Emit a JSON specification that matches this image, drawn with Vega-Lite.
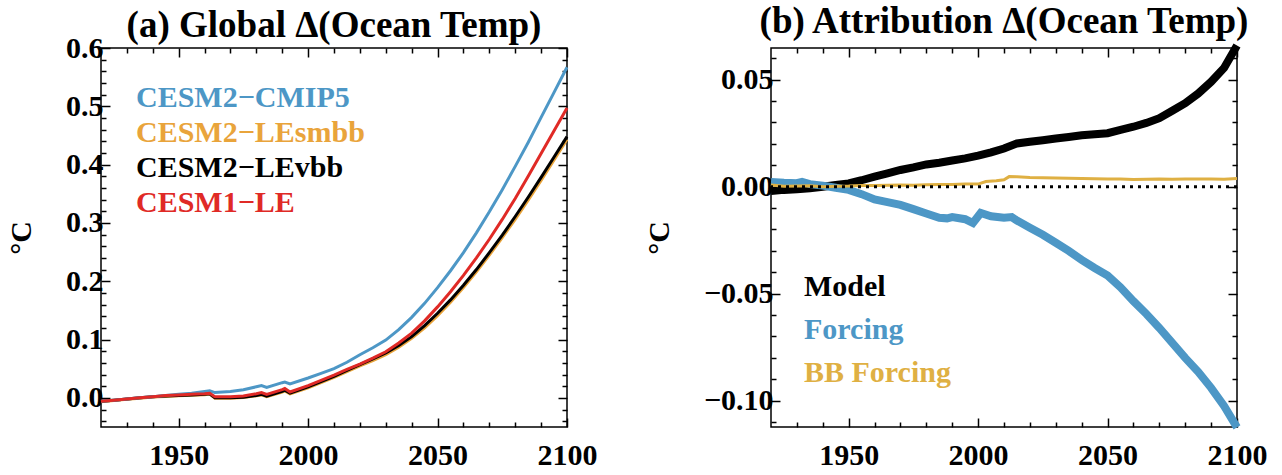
{
  "$schema": "https://vega.github.io/schema/vega-lite/v6.json",
  "background": "white",
  "padding": {"left": 5, "top": 2, "right": 5, "bottom": 5},
  "datasets": {
    "a": [
      {"year":1920,"value":-0.0065,"series":"CESM2−LEsmbb"},{"year":1925,"value":-0.0045,"series":"CESM2−LEsmbb"},{"year":1930,"value":-0.0025,"series":"CESM2−LEsmbb"},{"year":1935,"value":-0.0005,"series":"CESM2−LEsmbb"},{"year":1940,"value":0.0015,"series":"CESM2−LEsmbb"},{"year":1945,"value":0.0025,"series":"CESM2−LEsmbb"},{"year":1950,"value":0.0035,"series":"CESM2−LEsmbb"},{"year":1955,"value":0.0045,"series":"CESM2−LEsmbb"},{"year":1960,"value":0.0055,"series":"CESM2−LEsmbb"},{"year":1962,"value":0.0065,"series":"CESM2−LEsmbb"},{"year":1964,"value":-0.0005,"series":"CESM2−LEsmbb"},{"year":1970,"value":-0.0005,"series":"CESM2−LEsmbb"},{"year":1975,"value":0.0005,"series":"CESM2−LEsmbb"},{"year":1980,"value":0.0035,"series":"CESM2−LEsmbb"},{"year":1982,"value":0.005,"series":"CESM2−LEsmbb"},{"year":1984,"value":0.002,"series":"CESM2−LEsmbb"},{"year":1990,"value":0.010,"series":"CESM2−LEsmbb"},{"year":1991,"value":0.012,"series":"CESM2−LEsmbb"},{"year":1993,"value":0.007,"series":"CESM2−LEsmbb"},{"year":2000,"value":0.017,"series":"CESM2−LEsmbb"},{"year":2005,"value":0.026,"series":"CESM2−LEsmbb"},{"year":2010,"value":0.035,"series":"CESM2−LEsmbb"},{"year":2015,"value":0.045,"series":"CESM2−LEsmbb"},{"year":2020,"value":0.055,"series":"CESM2−LEsmbb"},{"year":2025,"value":0.064,"series":"CESM2−LEsmbb"},{"year":2030,"value":0.074,"series":"CESM2−LEsmbb"},{"year":2035,"value":0.087,"series":"CESM2−LEsmbb"},{"year":2040,"value":0.102,"series":"CESM2−LEsmbb"},{"year":2045,"value":0.120,"series":"CESM2−LEsmbb"},{"year":2050,"value":0.141,"series":"CESM2−LEsmbb"},{"year":2055,"value":0.164,"series":"CESM2−LEsmbb"},{"year":2060,"value":0.189,"series":"CESM2−LEsmbb"},{"year":2065,"value":0.216,"series":"CESM2−LEsmbb"},{"year":2070,"value":0.245,"series":"CESM2−LEsmbb"},{"year":2075,"value":0.275,"series":"CESM2−LEsmbb"},{"year":2080,"value":0.306,"series":"CESM2−LEsmbb"},{"year":2085,"value":0.339,"series":"CESM2−LEsmbb"},{"year":2090,"value":0.373,"series":"CESM2−LEsmbb"},{"year":2095,"value":0.408,"series":"CESM2−LEsmbb"},{"year":2100,"value":0.443,"series":"CESM2−LEsmbb"},

      {"year":1920,"value":-0.006,"series":"CESM2−LEvbb"},{"year":1925,"value":-0.004,"series":"CESM2−LEvbb"},{"year":1930,"value":-0.002,"series":"CESM2−LEvbb"},{"year":1935,"value":0.0,"series":"CESM2−LEvbb"},{"year":1940,"value":0.002,"series":"CESM2−LEvbb"},{"year":1945,"value":0.003,"series":"CESM2−LEvbb"},{"year":1950,"value":0.004,"series":"CESM2−LEvbb"},{"year":1955,"value":0.005,"series":"CESM2−LEvbb"},{"year":1960,"value":0.006,"series":"CESM2−LEvbb"},{"year":1962,"value":0.007,"series":"CESM2−LEvbb"},{"year":1964,"value":0.0,"series":"CESM2−LEvbb"},{"year":1970,"value":0.0,"series":"CESM2−LEvbb"},{"year":1975,"value":0.001,"series":"CESM2−LEvbb"},{"year":1980,"value":0.004,"series":"CESM2−LEvbb"},{"year":1982,"value":0.006,"series":"CESM2−LEvbb"},{"year":1984,"value":0.003,"series":"CESM2−LEvbb"},{"year":1990,"value":0.011,"series":"CESM2−LEvbb"},{"year":1991,"value":0.013,"series":"CESM2−LEvbb"},{"year":1993,"value":0.008,"series":"CESM2−LEvbb"},{"year":2000,"value":0.019,"series":"CESM2−LEvbb"},{"year":2005,"value":0.028,"series":"CESM2−LEvbb"},{"year":2010,"value":0.037,"series":"CESM2−LEvbb"},{"year":2015,"value":0.047,"series":"CESM2−LEvbb"},{"year":2020,"value":0.057,"series":"CESM2−LEvbb"},{"year":2025,"value":0.067,"series":"CESM2−LEvbb"},{"year":2030,"value":0.077,"series":"CESM2−LEvbb"},{"year":2035,"value":0.090,"series":"CESM2−LEvbb"},{"year":2040,"value":0.105,"series":"CESM2−LEvbb"},{"year":2045,"value":0.124,"series":"CESM2−LEvbb"},{"year":2050,"value":0.145,"series":"CESM2−LEvbb"},{"year":2055,"value":0.168,"series":"CESM2−LEvbb"},{"year":2060,"value":0.193,"series":"CESM2−LEvbb"},{"year":2065,"value":0.220,"series":"CESM2−LEvbb"},{"year":2070,"value":0.249,"series":"CESM2−LEvbb"},{"year":2075,"value":0.279,"series":"CESM2−LEvbb"},{"year":2080,"value":0.311,"series":"CESM2−LEvbb"},{"year":2085,"value":0.344,"series":"CESM2−LEvbb"},{"year":2090,"value":0.378,"series":"CESM2−LEvbb"},{"year":2095,"value":0.413,"series":"CESM2−LEvbb"},{"year":2100,"value":0.448,"series":"CESM2−LEvbb"},

      {"year":1920,"value":-0.006,"series":"CESM2−CMIP5"},{"year":1925,"value":-0.004,"series":"CESM2−CMIP5"},{"year":1930,"value":-0.002,"series":"CESM2−CMIP5"},{"year":1935,"value":0.0,"series":"CESM2−CMIP5"},{"year":1940,"value":0.002,"series":"CESM2−CMIP5"},{"year":1945,"value":0.004,"series":"CESM2−CMIP5"},{"year":1950,"value":0.006,"series":"CESM2−CMIP5"},{"year":1955,"value":0.008,"series":"CESM2−CMIP5"},{"year":1960,"value":0.011,"series":"CESM2−CMIP5"},{"year":1962,"value":0.012,"series":"CESM2−CMIP5"},{"year":1964,"value":0.009,"series":"CESM2−CMIP5"},{"year":1970,"value":0.011,"series":"CESM2−CMIP5"},{"year":1975,"value":0.014,"series":"CESM2−CMIP5"},{"year":1980,"value":0.019,"series":"CESM2−CMIP5"},{"year":1982,"value":0.021,"series":"CESM2−CMIP5"},{"year":1984,"value":0.018,"series":"CESM2−CMIP5"},{"year":1990,"value":0.026,"series":"CESM2−CMIP5"},{"year":1991,"value":0.027,"series":"CESM2−CMIP5"},{"year":1993,"value":0.024,"series":"CESM2−CMIP5"},{"year":2000,"value":0.034,"series":"CESM2−CMIP5"},{"year":2005,"value":0.042,"series":"CESM2−CMIP5"},{"year":2010,"value":0.050,"series":"CESM2−CMIP5"},{"year":2015,"value":0.061,"series":"CESM2−CMIP5"},{"year":2020,"value":0.074,"series":"CESM2−CMIP5"},{"year":2025,"value":0.086,"series":"CESM2−CMIP5"},{"year":2030,"value":0.099,"series":"CESM2−CMIP5"},{"year":2035,"value":0.117,"series":"CESM2−CMIP5"},{"year":2040,"value":0.138,"series":"CESM2−CMIP5"},{"year":2045,"value":0.162,"series":"CESM2−CMIP5"},{"year":2050,"value":0.189,"series":"CESM2−CMIP5"},{"year":2055,"value":0.218,"series":"CESM2−CMIP5"},{"year":2060,"value":0.249,"series":"CESM2−CMIP5"},{"year":2065,"value":0.283,"series":"CESM2−CMIP5"},{"year":2070,"value":0.319,"series":"CESM2−CMIP5"},{"year":2075,"value":0.357,"series":"CESM2−CMIP5"},{"year":2080,"value":0.397,"series":"CESM2−CMIP5"},{"year":2085,"value":0.438,"series":"CESM2−CMIP5"},{"year":2090,"value":0.481,"series":"CESM2−CMIP5"},{"year":2095,"value":0.524,"series":"CESM2−CMIP5"},{"year":2100,"value":0.567,"series":"CESM2−CMIP5"},

      {"year":1920,"value":-0.006,"series":"CESM1−LE"},{"year":1925,"value":-0.004,"series":"CESM1−LE"},{"year":1930,"value":-0.002,"series":"CESM1−LE"},{"year":1935,"value":0.0,"series":"CESM1−LE"},{"year":1940,"value":0.002,"series":"CESM1−LE"},{"year":1945,"value":0.004,"series":"CESM1−LE"},{"year":1950,"value":0.005,"series":"CESM1−LE"},{"year":1955,"value":0.006,"series":"CESM1−LE"},{"year":1960,"value":0.007,"series":"CESM1−LE"},{"year":1962,"value":0.008,"series":"CESM1−LE"},{"year":1964,"value":0.002,"series":"CESM1−LE"},{"year":1970,"value":0.002,"series":"CESM1−LE"},{"year":1975,"value":0.003,"series":"CESM1−LE"},{"year":1980,"value":0.007,"series":"CESM1−LE"},{"year":1982,"value":0.009,"series":"CESM1−LE"},{"year":1984,"value":0.006,"series":"CESM1−LE"},{"year":1990,"value":0.014,"series":"CESM1−LE"},{"year":1991,"value":0.016,"series":"CESM1−LE"},{"year":1993,"value":0.010,"series":"CESM1−LE"},{"year":2000,"value":0.021,"series":"CESM1−LE"},{"year":2005,"value":0.030,"series":"CESM1−LE"},{"year":2010,"value":0.039,"series":"CESM1−LE"},{"year":2015,"value":0.049,"series":"CESM1−LE"},{"year":2020,"value":0.058,"series":"CESM1−LE"},{"year":2025,"value":0.068,"series":"CESM1−LE"},{"year":2030,"value":0.079,"series":"CESM1−LE"},{"year":2035,"value":0.094,"series":"CESM1−LE"},{"year":2040,"value":0.111,"series":"CESM1−LE"},{"year":2045,"value":0.132,"series":"CESM1−LE"},{"year":2050,"value":0.156,"series":"CESM1−LE"},{"year":2055,"value":0.182,"series":"CESM1−LE"},{"year":2060,"value":0.210,"series":"CESM1−LE"},{"year":2065,"value":0.240,"series":"CESM1−LE"},{"year":2070,"value":0.272,"series":"CESM1−LE"},{"year":2075,"value":0.306,"series":"CESM1−LE"},{"year":2080,"value":0.342,"series":"CESM1−LE"},{"year":2085,"value":0.380,"series":"CESM1−LE"},{"year":2090,"value":0.419,"series":"CESM1−LE"},{"year":2095,"value":0.458,"series":"CESM1−LE"},{"year":2100,"value":0.497,"series":"CESM1−LE"}
    ],
    "b": [
      {"year":1920,"value":-0.002,"series":"Model"},{"year":1925,"value":-0.0015,"series":"Model"},{"year":1930,"value":-0.0012,"series":"Model"},{"year":1935,"value":-0.0008,"series":"Model"},{"year":1940,"value":0.0,"series":"Model"},{"year":1945,"value":0.0008,"series":"Model"},{"year":1950,"value":0.0015,"series":"Model"},{"year":1955,"value":0.003,"series":"Model"},{"year":1960,"value":0.0047,"series":"Model"},{"year":1965,"value":0.0062,"series":"Model"},{"year":1970,"value":0.0078,"series":"Model"},{"year":1975,"value":0.009,"series":"Model"},{"year":1980,"value":0.0104,"series":"Model"},{"year":1985,"value":0.0112,"series":"Model"},{"year":1990,"value":0.0122,"series":"Model"},{"year":1995,"value":0.0132,"series":"Model"},{"year":2000,"value":0.0145,"series":"Model"},{"year":2005,"value":0.016,"series":"Model"},{"year":2010,"value":0.0178,"series":"Model"},{"year":2015,"value":0.0202,"series":"Model"},{"year":2020,"value":0.021,"series":"Model"},{"year":2025,"value":0.0217,"series":"Model"},{"year":2030,"value":0.0225,"series":"Model"},{"year":2035,"value":0.0232,"series":"Model"},{"year":2040,"value":0.024,"series":"Model"},{"year":2045,"value":0.0245,"series":"Model"},{"year":2050,"value":0.025,"series":"Model"},{"year":2055,"value":0.0265,"series":"Model"},{"year":2060,"value":0.028,"series":"Model"},{"year":2065,"value":0.0298,"series":"Model"},{"year":2070,"value":0.032,"series":"Model"},{"year":2075,"value":0.0355,"series":"Model"},{"year":2080,"value":0.039,"series":"Model"},{"year":2085,"value":0.0435,"series":"Model"},{"year":2090,"value":0.049,"series":"Model"},{"year":2095,"value":0.0555,"series":"Model"},{"year":2100,"value":0.066,"series":"Model"},

      {"year":1920,"value":0.0022,"series":"Forcing"},{"year":1925,"value":0.0018,"series":"Forcing"},{"year":1930,"value":0.0016,"series":"Forcing"},{"year":1932,"value":0.0022,"series":"Forcing"},{"year":1935,"value":0.0012,"series":"Forcing"},{"year":1940,"value":0.0005,"series":"Forcing"},{"year":1945,"value":-0.0005,"series":"Forcing"},{"year":1950,"value":-0.0015,"series":"Forcing"},{"year":1955,"value":-0.0035,"series":"Forcing"},{"year":1960,"value":-0.006,"series":"Forcing"},{"year":1965,"value":-0.0072,"series":"Forcing"},{"year":1970,"value":-0.0085,"series":"Forcing"},{"year":1975,"value":-0.0105,"series":"Forcing"},{"year":1980,"value":-0.0125,"series":"Forcing"},{"year":1985,"value":-0.0145,"series":"Forcing"},{"year":1988,"value":-0.0148,"series":"Forcing"},{"year":1990,"value":-0.0142,"series":"Forcing"},{"year":1995,"value":-0.0152,"series":"Forcing"},{"year":1998,"value":-0.017,"series":"Forcing"},{"year":2001,"value":-0.0123,"series":"Forcing"},{"year":2005,"value":-0.0138,"series":"Forcing"},{"year":2010,"value":-0.0145,"series":"Forcing"},{"year":2013,"value":-0.0142,"series":"Forcing"},{"year":2015,"value":-0.0158,"series":"Forcing"},{"year":2020,"value":-0.0192,"series":"Forcing"},{"year":2025,"value":-0.0225,"series":"Forcing"},{"year":2030,"value":-0.0262,"series":"Forcing"},{"year":2035,"value":-0.030,"series":"Forcing"},{"year":2040,"value":-0.0342,"series":"Forcing"},{"year":2045,"value":-0.038,"series":"Forcing"},{"year":2050,"value":-0.0415,"series":"Forcing"},{"year":2055,"value":-0.047,"series":"Forcing"},{"year":2060,"value":-0.0535,"series":"Forcing"},{"year":2065,"value":-0.0595,"series":"Forcing"},{"year":2070,"value":-0.066,"series":"Forcing"},{"year":2075,"value":-0.073,"series":"Forcing"},{"year":2080,"value":-0.080,"series":"Forcing"},{"year":2085,"value":-0.0865,"series":"Forcing"},{"year":2090,"value":-0.094,"series":"Forcing"},{"year":2095,"value":-0.1025,"series":"Forcing"},{"year":2100,"value":-0.1125,"series":"Forcing"},

      {"year":1920,"value":0.0008,"series":"BB Forcing"},{"year":1925,"value":0.0002,"series":"BB Forcing"},{"year":1930,"value":0.0003,"series":"BB Forcing"},{"year":1935,"value":0.0004,"series":"BB Forcing"},{"year":1940,"value":0.0,"series":"BB Forcing"},{"year":1945,"value":0.0002,"series":"BB Forcing"},{"year":1950,"value":0.0003,"series":"BB Forcing"},{"year":1955,"value":0.0006,"series":"BB Forcing"},{"year":1960,"value":0.0006,"series":"BB Forcing"},{"year":1965,"value":0.0007,"series":"BB Forcing"},{"year":1970,"value":0.0008,"series":"BB Forcing"},{"year":1975,"value":0.0007,"series":"BB Forcing"},{"year":1980,"value":0.0009,"series":"BB Forcing"},{"year":1985,"value":0.001,"series":"BB Forcing"},{"year":1990,"value":0.001,"series":"BB Forcing"},{"year":1995,"value":0.0012,"series":"BB Forcing"},{"year":2000,"value":0.0012,"series":"BB Forcing"},{"year":2003,"value":0.0024,"series":"BB Forcing"},{"year":2007,"value":0.0028,"series":"BB Forcing"},{"year":2010,"value":0.0032,"series":"BB Forcing"},{"year":2012,"value":0.0047,"series":"BB Forcing"},{"year":2015,"value":0.0046,"series":"BB Forcing"},{"year":2020,"value":0.0043,"series":"BB Forcing"},{"year":2025,"value":0.0042,"series":"BB Forcing"},{"year":2030,"value":0.004,"series":"BB Forcing"},{"year":2035,"value":0.0039,"series":"BB Forcing"},{"year":2040,"value":0.0038,"series":"BB Forcing"},{"year":2045,"value":0.0037,"series":"BB Forcing"},{"year":2050,"value":0.0036,"series":"BB Forcing"},{"year":2055,"value":0.0036,"series":"BB Forcing"},{"year":2060,"value":0.0033,"series":"BB Forcing"},{"year":2065,"value":0.0035,"series":"BB Forcing"},{"year":2070,"value":0.0036,"series":"BB Forcing"},{"year":2075,"value":0.0035,"series":"BB Forcing"},{"year":2080,"value":0.0036,"series":"BB Forcing"},{"year":2085,"value":0.0036,"series":"BB Forcing"},{"year":2090,"value":0.0036,"series":"BB Forcing"},{"year":2095,"value":0.0035,"series":"BB Forcing"},{"year":2100,"value":0.0038,"series":"BB Forcing"}
    ]
  },
  "spacing": 45,
  "resolve": {"scale": {"color": "independent"}, "legend": {"color": "independent"}},
  "hconcat": [
    {
      "width": 466,
      "height": 379,
      "title": {"text": "(a) Global Δ(Ocean Temp)"},
      "data": {"name": "a"},
      "layer": [
        {
          "mark": {"type": "line", "strokeWidth": 3},
          "encoding": {
            "x": {"field": "year", "type": "quantitative", "scale": {"domain": [1920, 2100], "nice": false, "zero": false},
              "axis": {"orient": "bottom", "title": null, "values": [1930,1940,1950,1960,1970,1980,1990,2000,2010,2020,2030,2040,2050,2060,2070,2080,2090,2100], "format": "d",
                "labelExpr": "datum.value % 50 === 0 ? datum.label : ''",
                "tickSize": {"condition": {"test": "datum.value % 50 === 0", "value": -9}, "value": -5},
                "labelPadding": 22}},
            "y": {"field": "value", "type": "quantitative", "scale": {"domain": [-0.05, 0.6], "nice": false, "zero": false},
              "axis": {"orient": "left", "title": "°C", "titlePadding": 29,
                "values": [-0.04,-0.02,0,0.02,0.04,0.06,0.08,0.1,0.12,0.14,0.16,0.18,0.2,0.22,0.24,0.26,0.28,0.3,0.32,0.34,0.36,0.38,0.4,0.42,0.44,0.46,0.48,0.5,0.52,0.54,0.56,0.58,0.6],
                "format": ".1f",
                "labelExpr": "abs(datum.value*10 - round(datum.value*10)) < 0.000001 ? datum.label : ''",
                "tickSize": {"condition": {"test": "abs(datum.value*10 - round(datum.value*10)) < 0.000001", "value": -9}, "value": -5},
                "labelPadding": 7}},
            "color": {"field": "series", "type": "nominal",
              "scale": {"domain": ["CESM2−CMIP5", "CESM2−LEsmbb", "CESM2−LEvbb", "CESM1−LE"], "range": ["#4d97c6", "#e9a43b", "#000000", "#e02a26"]},
              "legend": {"orient": "none", "legendX": 5, "legendY": 35, "title": null, "symbolSize": 0, "symbolOpacity": 0, "symbolStrokeWidth": 0, "labelOffset": 0, "rowPadding": 5,
                "labelColor": {"expr": "datum.label === 'CESM2−CMIP5' ? '#4d97c6' : datum.label === 'CESM2−LEsmbb' ? '#e9a43b' : datum.label === 'CESM1−LE' ? '#e02a26' : '#000000'"}}}
          }
        },
        {
          "mark": {"type": "line", "opacity": 0},
          "encoding": {
            "x": {"field": "year", "type": "quantitative",
              "axis": {"orient": "top", "title": null, "labels": false, "values": [1930,1940,1950,1960,1970,1980,1990,2000,2010,2020,2030,2040,2050,2060,2070,2080,2090,2100],
                "tickSize": {"condition": {"test": "datum.value % 50 === 0", "value": -9}, "value": -5}}},
            "y": {"field": "value", "type": "quantitative",
              "axis": {"orient": "right", "title": null, "labels": false,
                "values": [-0.04,-0.02,0,0.02,0.04,0.06,0.08,0.1,0.12,0.14,0.16,0.18,0.2,0.22,0.24,0.26,0.28,0.3,0.32,0.34,0.36,0.38,0.4,0.42,0.44,0.46,0.48,0.5,0.52,0.54,0.56,0.58,0.6],
                "tickSize": {"condition": {"test": "abs(datum.value*10 - round(datum.value*10)) < 0.000001", "value": -9}, "value": -5}}}
          }
        }
      ],
      "resolve": {"axis": {"x": "independent", "y": "independent"}}
    },
    {
      "width": 466,
      "height": 379,
      "title": {"text": "(b) Attribution Δ(Ocean Temp)"},
      "layer": [
        {
          "data": {"name": "b"},
          "transform": [{"filter": "datum.series !== 'BB Forcing'"}],
          "mark": {"type": "line", "strokeWidth": 8},
          "encoding": {
            "x": {"field": "year", "type": "quantitative", "scale": {"domain": [1920, 2100], "nice": false, "zero": false},
              "axis": {"orient": "bottom", "title": null, "values": [1930,1940,1950,1960,1970,1980,1990,2000,2010,2020,2030,2040,2050,2060,2070,2080,2090,2100], "format": "d",
                "labelExpr": "datum.value % 50 === 0 ? datum.label : ''",
                "tickSize": {"condition": {"test": "datum.value % 50 === 0", "value": -9}, "value": -5},
                "labelPadding": 22}},
            "y": {"field": "value", "type": "quantitative", "scale": {"domain": [-0.1123, 0.0648], "nice": false, "zero": false},
              "axis": {"orient": "left", "title": "°C", "titlePadding": 29,
                "values": [-0.11,-0.1,-0.09,-0.08,-0.07,-0.06,-0.05,-0.04,-0.03,-0.02,-0.01,0,0.01,0.02,0.03,0.04,0.05,0.06],
                "format": ".2f",
                "labelExpr": "abs(datum.value*20 - round(datum.value*20)) < 0.000001 ? datum.label : ''",
                "tickSize": {"condition": {"test": "abs(datum.value*20 - round(datum.value*20)) < 0.000001", "value": -9}, "value": -5},
                "labelPadding": 7}},
            "color": {"field": "series", "type": "nominal",
              "scale": {"domain": ["Model", "Forcing", "BB Forcing"], "range": ["#000000", "#4d97c6", "#dfb043"]},
              "legend": {"orient": "none", "legendX": 3, "legendY": 224, "title": null, "symbolSize": 0, "symbolOpacity": 0, "symbolStrokeWidth": 0, "labelOffset": 0, "rowPadding": 13,
                "labelColor": {"expr": "datum.label === 'Forcing' ? '#4d97c6' : datum.label === 'BB Forcing' ? '#dfb043' : '#000000'"}}}
          }
        },
        {
          "data": {"name": "b"},
          "transform": [{"filter": "datum.series === 'BB Forcing'"}],
          "mark": {"type": "line", "strokeWidth": 3},
          "encoding": {
            "x": {"field": "year", "type": "quantitative", "axis": null},
            "y": {"field": "value", "type": "quantitative", "axis": null},
            "color": {"field": "series", "type": "nominal"}
          }
        },
        {
          "data": {"values": [{"ref": 0}]},
          "mark": {"type": "rule", "color": "#000000", "strokeWidth": 3, "strokeDash": [3, 5]},
          "encoding": {
            "y": {"field": "ref", "type": "quantitative", "axis": null}
          }
        },
        {
          "data": {"name": "b"},
          "mark": {"type": "line", "opacity": 0},
          "encoding": {
            "x": {"field": "year", "type": "quantitative",
              "axis": {"orient": "top", "title": null, "labels": false, "values": [1930,1940,1950,1960,1970,1980,1990,2000,2010,2020,2030,2040,2050,2060,2070,2080,2090,2100],
                "tickSize": {"condition": {"test": "datum.value % 50 === 0", "value": -9}, "value": -5}}},
            "y": {"field": "value", "type": "quantitative",
              "axis": {"orient": "right", "title": null, "labels": false,
                "values": [-0.11,-0.1,-0.09,-0.08,-0.07,-0.06,-0.05,-0.04,-0.03,-0.02,-0.01,0,0.01,0.02,0.03,0.04,0.05,0.06],
                "tickSize": {"condition": {"test": "abs(datum.value*20 - round(datum.value*20)) < 0.000001", "value": -9}, "value": -5}}}
          }
        }
      ],
      "resolve": {"axis": {"x": "independent", "y": "independent"}}
    }
  ],
  "config": {
    "font": "Liberation Serif",
    "view": {"stroke": "#000000", "strokeWidth": 1.5},
    "title": {"font": "Liberation Serif", "fontSize": 37, "fontWeight": "bold", "color": "#000000", "offset": -12},
    "axis": {
      "domain": false, "grid": false, "ticks": true,
      "tickColor": "#000000", "tickWidth": 1.5,
      "labelFont": "Liberation Serif", "labelFontSize": 30, "labelFontWeight": "bold", "labelColor": "#000000",
      "labelFlush": false, "labelOverlap": false,
      "titleFont": "Liberation Serif", "titleFontSize": 30, "titleFontWeight": "bold", "titleColor": "#000000"
    },
    "legend": {"labelFont": "Liberation Serif", "labelFontSize": 30, "labelFontWeight": "bold", "labelLimit": 400}
  }
}
